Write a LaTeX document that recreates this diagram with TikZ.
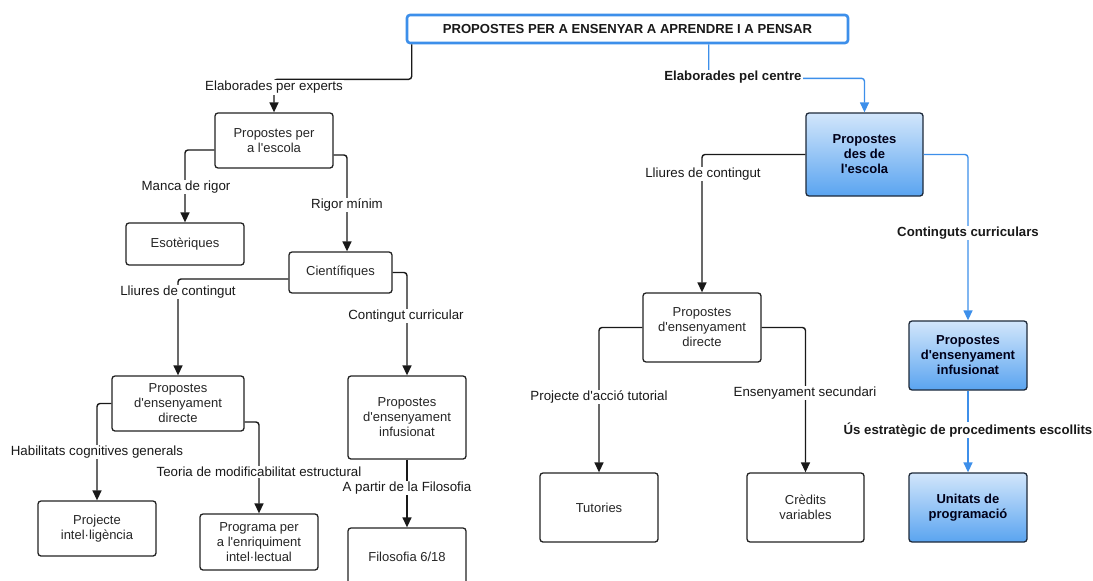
\documentclass[tikz,border=0pt]{standalone}
\usepackage{fontspec}
\setmainfont{Liberation Sans}[Ligatures=TeXOff]
\usetikzlibrary{arrows.meta,calc}

\definecolor{linkblue}{HTML}{3D8FEA}
\definecolor{boxline}{HTML}{222222}
\definecolor{blueTop}{HTML}{D2E6FB}
\definecolor{blueBot}{HTML}{5AA4F0}
\definecolor{blueEdge}{HTML}{1E2A3A}

\tikzset{
  sz/.style 2 args={minimum width=#1pt, minimum height=#2pt},
  box/.style={draw=boxline, line width=1.3pt, rounded corners=3pt, fill=white,
    align=center, text=black!85, inner sep=2pt, font=\fontsize{13}{15}\selectfont},
  bluebox/.style={box, draw=blueEdge, top color=blueTop, bottom color=blueBot,
    text=black!90!blue, font=\bfseries\fontsize{13}{15}\selectfont},
  titlebox/.style={draw=linkblue, line width=2.6pt, rounded corners=3pt, fill=white,
    text=black!90, inner sep=2pt, font=\bfseries\fontsize{13.1}{15}\selectfont},
  conn/.style={draw=black!90, line width=1.4pt, rounded corners=3pt,
    -{Triangle[length=10pt,width=9pt]}},
  bconn/.style={conn, draw=linkblue},
  lab/.style={fill=white, inner sep=1pt, text=black!90, font=\fontsize{13.3}{15}\selectfont},
  blab/.style={lab, font=\bfseries\fontsize{13.2}{15}\selectfont},
}

\begin{document}
\begin{tikzpicture}[x=1pt, y=-1pt]
  \fill[white] (0,0) rectangle (1093,581);
  \useasboundingbox (0,0) rectangle (1093,581);

  % title
  \node[titlebox, sz={441}{28}] (title) at (627.5,29) {PROPOSTES PER A ENSENYAR A APRENDRE I A PENSAR};

  % left branch: proposals by experts
  \node[box, sz={118}{55}] (escolaL) at (274,140.5) {Propostes per\\a l'escola};
  \node[box, sz={118}{42}] (esot) at (185,244) {Esotèriques};
  \node[box, sz={103}{41}] (cient) at (340.5,272.5) {Científiques};
  \node[box, sz={132}{55}] (dirL) at (178,403.5) {Propostes\\d'ensenyament\\directe};
  \node[box, sz={118}{83}] (infL) at (407,417.5) {Propostes\\d'ensenyament\\infusionat};
  \node[box, sz={118}{55}] (projInt) at (97,528.5) {Projecte\\intel·ligència};
  \node[box, sz={118}{56}] (prog) at (259,542) {Programa per\\a l'enriquiment\\intel·lectual};
  \node[box, sz={118}{58}] (filo) at (407,557) {Filosofia 6/18};

  % right branch: proposals by the school
  \node[bluebox, sz={117}{83}] (escolaR) at (864.5,154.5) {Propostes\\des de\\l'escola};
  \node[box, sz={118}{69}] (dirR) at (702,327.5) {Propostes\\d'ensenyament\\directe};
  \node[bluebox, sz={118}{69}] (infR) at (968,355.5) {Propostes\\d'ensenyament\\infusionat};
  \node[box, sz={118}{69}] (tut) at (599,507.5) {Tutories};
  \node[box, sz={117}{69}] (cred) at (805.5,507.5) {Crèdits\\variables};
  \node[bluebox, sz={118}{69}] (unit) at (968,507.5) {Unitats de\\programació};

  % connectors
  \draw[conn] ($(title.south west)+(6,0)$) -- ++(0,35) -| (escolaL.north);
  \draw[bconn] ($(title.south west)+(303,0)$) -- ++(0,34) -| (escolaR.north);

  \draw[conn] ($(escolaL.west)+(0,9.5)$) -| (esot.north);
  \draw[conn] ($(escolaL.east)+(0,14.5)$) -| ($(cient.north)+(6.5,0)$);
  \draw[conn] ($(cient.west)+(0,6.5)$) -| (dirL.north);
  \draw[conn] (cient.east) -| (infL.north);
  \draw[conn] (dirL.west) -| (projInt.north);
  \draw[conn] ($(dirL.east)+(0,18.5)$) -| (prog.north);
  \draw[conn] (infL.south) -- (filo.north);

  \draw[conn] (escolaR.west) -| (dirR.north);
  \draw[bconn] (escolaR.east) -| (infR.north);
  \draw[conn] (dirR.west) -| (tut.north);
  \draw[conn] (dirR.east) -| (cred.north);
  \draw[bconn] (infR.south) -- (unit.north);

  % connector labels
  \node[lab] (l1) at (274,87.5) {Elaborades per experts};
  \node[blab] (l2) at (733,77) {Elaborades pel centre};
  \node[lab] (l3) at (186,187) {Manca de rigor};
  \node[lab] (l4) at (347,205) {Rigor mínim};
  \node[lab] (l5) at (178,292) {Lliures de contingut};
  \node[lab] (l6) at (406,316) {Contingut curricular};
  \node[lab] (l7) at (97,452) {Habilitats cognitives generals};
  \node[lab] (l8) at (259,472) {Teoria de modificabilitat estructural};
  \node[lab] (l9) at (407,488) {A partir de la Filosofia};
  \node[lab] (l10) at (703,174) {Lliures de contingut};
  \node[blab] (l11) at (968,233) {Continguts curriculars};
  \node[lab] (l12) at (599,397) {Projecte d'acció tutorial};
  \node[lab] (l13) at (805,393) {Ensenyament secundari};
  \node[blab] (l14) at (968,430) {Ús estratègic de procediments escollits};
\end{tikzpicture}
\end{document}
